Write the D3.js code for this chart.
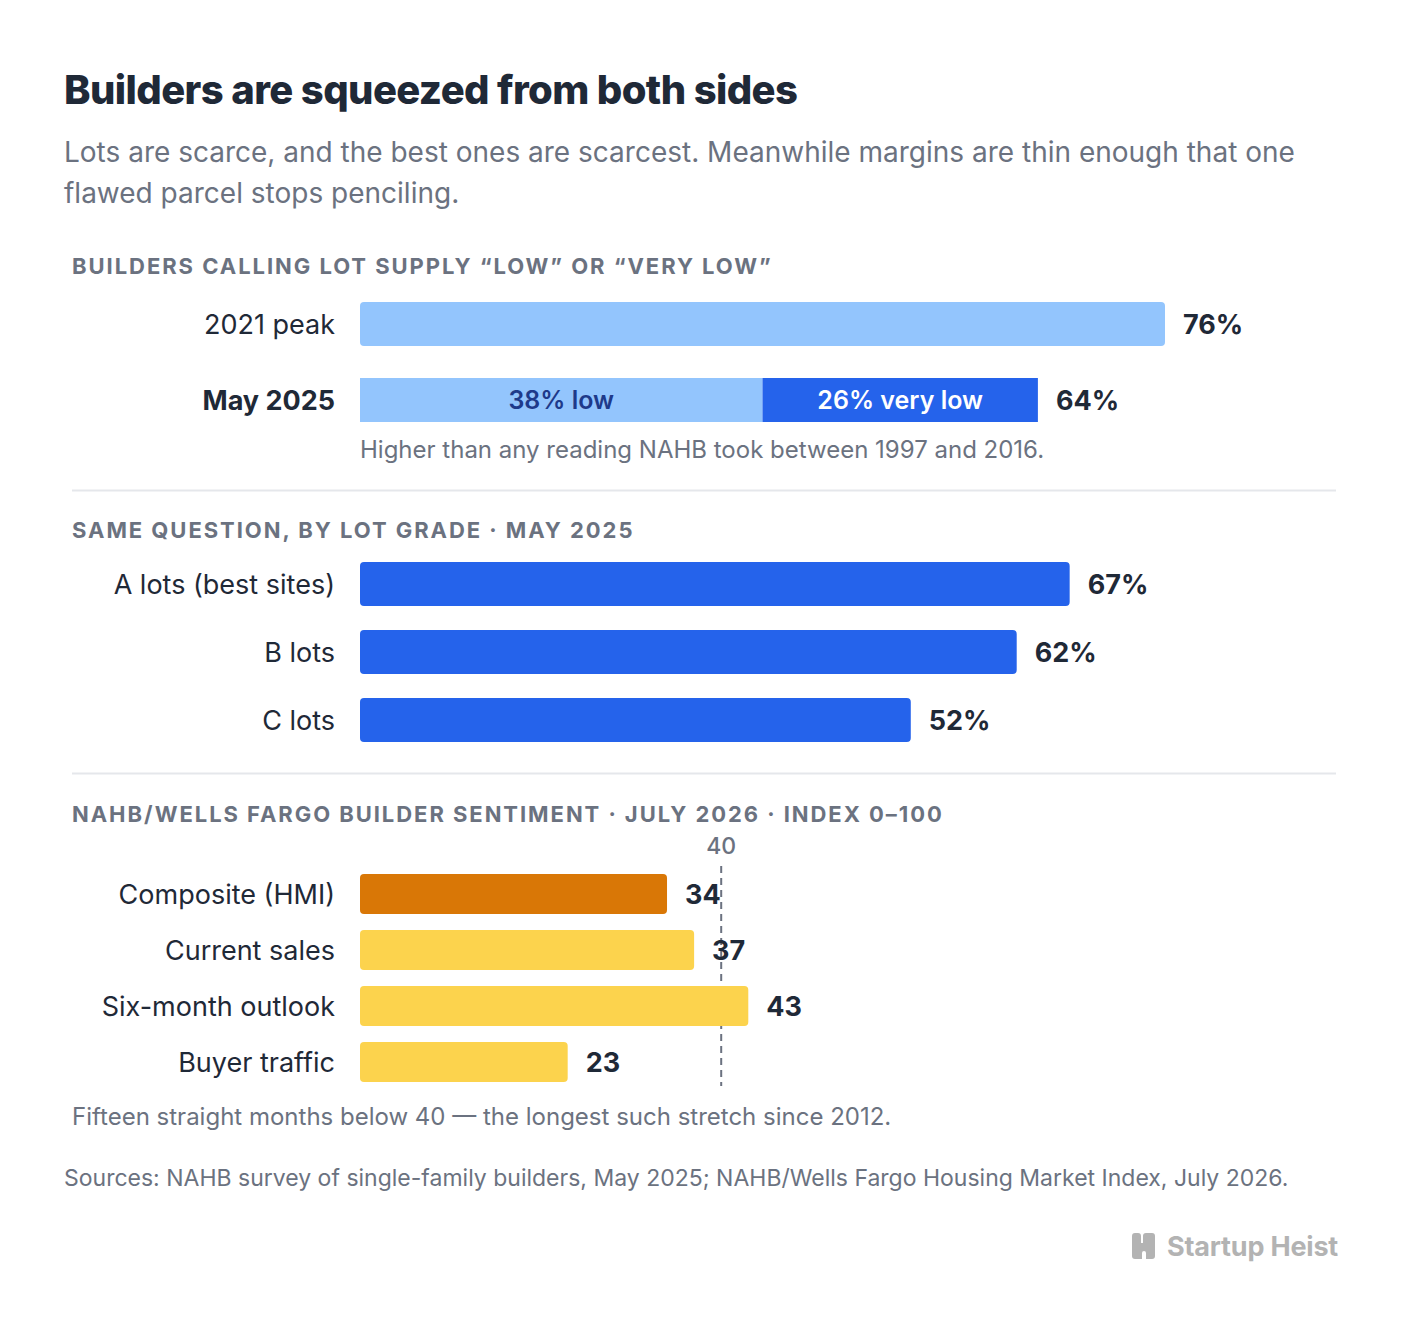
<!DOCTYPE html>
<html>
<head>
<meta charset="utf-8">
<script src="https://cdn.jsdelivr.net/npm/d3@7"></script>
<style>
  body { margin: 0; background: #ffffff; }
  svg { display: block; font-family: Inter, "Noto Sans", sans-serif; }
</style>
</head>
<body>
<svg id="chart" width="1408" height="1332"></svg>
<script>
// ---- Data ----
const supplyCategories = ["2021 peak", "May 2025"];
const peakValue = [76];
const mayLow = [38];
const mayVeryLow = [26];
const mayTotal = [64];

const gradeCategories = ["A lots (best sites)", "B lots", "C lots"];
const gradeValues = [67, 62, 52];

const sentimentCategories = ["Composite (HMI)", "Current sales", "Six-month outlook", "Buyer traffic"];
const sentimentValues = [34, 37, 43, 23];
const sentimentThreshold = [40];

const svg = d3.select("#chart");
const dark = "#1f2937", gray = "#6b7280", lightBlue = "#93c5fd", blue = "#2563eb";

// Title & subtitle
svg.append("text").attr("x", 64).attr("y", 104)
  .attr("font-size", 40).attr("font-weight", 800).attr("fill", dark)
  .attr("letter-spacing", "-0.6px")
  .text("Builders are squeezed from both sides");
svg.append("text").attr("x", 64).attr("y", 162)
  .attr("font-size", 28).attr("fill", gray)
  .text("Lots are scarce, and the best ones are scarcest. Meanwhile margins are thin enough that one");
svg.append("text").attr("x", 64).attr("y", 203)
  .attr("font-size", 28).attr("fill", gray)
  .text("flawed parcel stops penciling.");

function sectionHeader(y, txt) {
  svg.append("text").attr("x", 72).attr("y", y)
    .attr("font-size", 22).attr("font-weight", 700).attr("fill", gray)
    .attr("letter-spacing", "1.95px").text(txt);
}
function catLabel(x, y, txt, bold) {
  svg.append("text").attr("x", x).attr("y", y).attr("text-anchor", "end")
    .attr("dominant-baseline", "central")
    .attr("font-size", 27).attr("font-weight", bold ? 700 : 400).attr("fill", dark).text(txt);
}
function valLabel(x, y, txt) {
  svg.append("text").attr("x", x).attr("y", y)
    .attr("dominant-baseline", "central")
    .attr("font-size", 27).attr("font-weight", 700).attr("fill", dark).text(txt);
}

// ---- Section 1 ----
sectionHeader(274, "BUILDERS CALLING LOT SUPPLY \u201CLOW\u201D OR \u201CVERY LOW\u201D");
const xPct = d3.scaleLinear().domain([0, 76]).range([360, 1165]);
const y1 = d3.scaleBand().domain(supplyCategories).range([302, 422]).paddingInner(32 / 76);

svg.append("rect").attr("x", xPct(0)).attr("y", y1("2021 peak"))
  .attr("width", xPct(peakValue[0]) - xPct(0)).attr("height", y1.bandwidth())
  .attr("rx", 4).attr("fill", lightBlue);
catLabel(335, y1("2021 peak") + y1.bandwidth() / 2, "2021 peak", false);
valLabel(xPct(peakValue[0]) + 18, y1("2021 peak") + y1.bandwidth() / 2, peakValue[0] + "%");

const ym = y1("May 2025");
svg.append("rect").attr("x", xPct(0)).attr("y", ym)
  .attr("width", xPct(mayLow[0]) - xPct(0)).attr("height", y1.bandwidth()).attr("fill", lightBlue);
svg.append("rect").attr("x", xPct(mayLow[0])).attr("y", ym)
  .attr("width", xPct(mayLow[0] + mayVeryLow[0]) - xPct(mayLow[0])).attr("height", y1.bandwidth()).attr("fill", blue);
svg.append("text").attr("x", (xPct(0) + xPct(mayLow[0])) / 2).attr("y", ym + y1.bandwidth() / 2)
  .attr("text-anchor", "middle").attr("dominant-baseline", "central")
  .attr("font-size", 25).attr("font-weight", 600).attr("fill", "#1e3a8a").text(mayLow[0] + "% low");
svg.append("text").attr("x", (xPct(mayLow[0]) + xPct(mayLow[0] + mayVeryLow[0])) / 2).attr("y", ym + y1.bandwidth() / 2)
  .attr("text-anchor", "middle").attr("dominant-baseline", "central")
  .attr("font-size", 25).attr("font-weight", 600).attr("fill", "#ffffff").text(mayVeryLow[0] + "% very low");
catLabel(335, ym + y1.bandwidth() / 2, "May 2025", true);
valLabel(xPct(mayTotal[0]) + 18, ym + y1.bandwidth() / 2, mayTotal[0] + "%");
svg.append("text").attr("x", 360).attr("y", 458)
  .attr("font-size", 24).attr("fill", gray)
  .text("Higher than any reading NAHB took between 1997 and 2016.");

svg.append("line").attr("x1", 72).attr("x2", 1336).attr("y1", 490.5).attr("y2", 490.5)
  .attr("stroke", "#e5e7eb").attr("stroke-width", 2);

// ---- Section 2 ----
sectionHeader(538, "SAME QUESTION, BY LOT GRADE \u00B7 MAY 2025");
const y2 = d3.scaleBand().domain(gradeCategories).range([562, 742]).paddingInner(24 / 68);
gradeCategories.forEach((c, i) => {
  svg.append("rect").attr("x", xPct(0)).attr("y", y2(c))
    .attr("width", xPct(gradeValues[i]) - xPct(0)).attr("height", y2.bandwidth())
    .attr("rx", 4).attr("fill", blue);
  catLabel(335, y2(c) + y2.bandwidth() / 2, c, false);
  valLabel(xPct(gradeValues[i]) + 18, y2(c) + y2.bandwidth() / 2, gradeValues[i] + "%");
});

svg.append("line").attr("x1", 72).attr("x2", 1336).attr("y1", 773.5).attr("y2", 773.5)
  .attr("stroke", "#e5e7eb").attr("stroke-width", 2);

// ---- Section 3 ----
sectionHeader(822, "NAHB/WELLS FARGO BUILDER SENTIMENT \u00B7 JULY 2026 \u00B7 INDEX 0\u2013100");
const xIdx = d3.scaleLinear().domain([0, 100]).range([360, 1263]);
const y3 = d3.scaleBand().domain(sentimentCategories).range([874, 1082]).paddingInner(16 / 56);

// threshold line (behind bars)
svg.append("line").attr("x1", xIdx(sentimentThreshold[0])).attr("x2", xIdx(sentimentThreshold[0]))
  .attr("y1", 866).attr("y2", 1086)
  .attr("stroke", "#6b7280").attr("stroke-width", 2).attr("stroke-dasharray", "7,5");
svg.append("text").attr("x", xIdx(sentimentThreshold[0])).attr("y", 854)
  .attr("text-anchor", "middle").attr("font-size", 23).attr("font-weight", 500).attr("fill", gray)
  .text(sentimentThreshold[0]);

sentimentCategories.forEach((c, i) => {
  svg.append("rect").attr("x", xIdx(0)).attr("y", y3(c))
    .attr("width", xIdx(sentimentValues[i]) - xIdx(0)).attr("height", y3.bandwidth())
    .attr("rx", 4).attr("fill", i === 0 ? "#d97706" : "#fcd34d");
  catLabel(335, y3(c) + y3.bandwidth() / 2, c, false);
  valLabel(xIdx(sentimentValues[i]) + 18, y3(c) + y3.bandwidth() / 2, sentimentValues[i]);
});

svg.append("text").attr("x", 72).attr("y", 1125)
  .attr("font-size", 24).attr("fill", gray)
  .text("Fifteen straight months below 40 \u2014 the longest such stretch since 2012.");

svg.append("text").attr("x", 64).attr("y", 1186)
  .attr("font-size", 23).attr("fill", gray)
  .text("Sources: NAHB survey of single-family builders, May 2025; NAHB/Wells Fargo Housing Market Index, July 2026.");

// Logo
const logo = svg.append("g").attr("transform", "translate(1129,1233)");
logo.append("path")
  .attr("d", "M3,0 h6 a3,3 0 0 1 3,3 v7 h2 v-7 a3,3 0 0 1 3,-3 h6 a3,3 0 0 1 3,3 v20 a3,3 0 0 1 -3,3 h-6 v-6 a2,2 0 0 0 -4,0 v6 h-5 h-2 a3,3 0 0 1 -3,-3 v-20 a3,3 0 0 1 3,-3 z")
  .attr("fill", "#b3b3b3");
svg.append("text").attr("x", 1338).attr("y", 1256).attr("text-anchor", "end")
  .attr("font-size", 27).attr("font-weight", 700).attr("fill", "#b3b3b3")
  .attr("letter-spacing", "-0.2px")
  .text("Startup Heist");
</script>
</body>
</html>
